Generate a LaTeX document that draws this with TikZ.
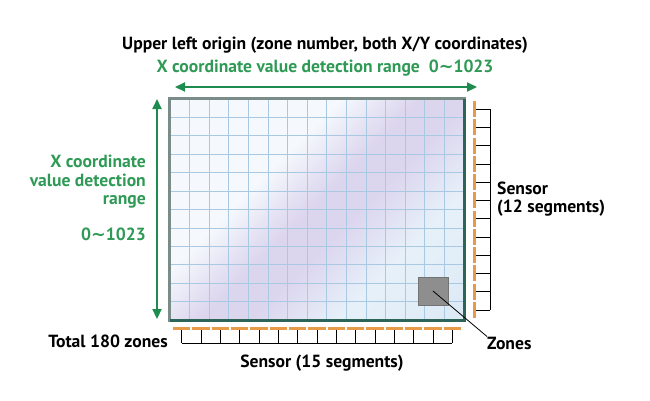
\documentclass[tikz,border=0pt]{standalone}
\usepackage{fontspec}
\setmainfont{PT Sans}
\newfontfamily\symfont{DejaVu Sans}
\usetikzlibrary{arrows.meta}

\definecolor{arrowgreen}{HTML}{1E8C4E}
\definecolor{textgreen}{HTML}{2E9A55}
\definecolor{sensororange}{HTML}{E89A48}
\definecolor{gridblue}{HTML}{A9C9E2}
\definecolor{frameteal}{HTML}{2D6658}
\definecolor{framegray}{HTML}{7A8C88}
\definecolor{lavender}{HTML}{DCD5EE}
\definecolor{paleblue}{HTML}{D2E4F3}
\definecolor{paperwhite}{HTML}{F5F9FD}
\definecolor{zonegray}{HTML}{8E8E8E}

\pgfdeclarehorizontalshading{panelshade}{100bp}{color(0bp)=(paperwhite); color(38bp)=(paperwhite); color(49bp)=(lavender); color(56bp)=(lavender); color(68bp)=(paleblue!40!paperwhite); color(100bp)=(paleblue)}

\newcommand{\wave}{{\symfont\char"223C}}

\tikzset{
  blacktext/.style={font=\bfseries\fontsize{17.6}{20}\selectfont, inner sep=0pt},
  greentext/.style={blacktext, text=textgreen},
  rangearrow/.style={draw=arrowgreen, line width=2.2pt, {Triangle[length=10pt,width=9pt]}-{Triangle[length=10pt,width=9pt]}},
  sensorbar/.style={draw=sensororange, line width=3pt},
  sensorbox/.style={draw=black, line width=0.6pt},
  gridline/.style={draw=gridblue, line width=0.7pt}
}

\begin{document}
\begin{tikzpicture}[x=1pt,y=-1pt]
	\useasboundingbox (0,0) rectangle (650,400);

	% panel with zone grid
	\node[shading=panelshade, shading angle=-45, minimum width=294pt, minimum height=221pt, inner sep=0pt] (panel) at (317,209.5) {};
	\foreach \i in {1,...,14}
		\draw[gridline] (170+\i*19.6,99) -- (170+\i*19.6,320);
	\foreach \j in {1,...,11}
		\draw[gridline] (170,99+\j*18.42) -- (464,99+\j*18.42);
	\draw[framegray, line width=3.2pt] (panel.south west) rectangle (panel.north east);
	\draw[frameteal, line width=3.2pt] (panel.south west) -- (panel.south east) -- (panel.north east);

	\node[fill=zonegray, draw=gray!90!black, line width=0.5pt, minimum width=30pt, minimum height=28pt, inner sep=0pt] (zone) at (433,291) {};

	% sensors
	\foreach \i in {0,...,14}
		\draw[sensorbar] (173+\i*19.33,328) -- +(17.3,0);
	\foreach \j in {0,...,11}
		\draw[sensorbar] (474,101+\j*18.25) -- +(0,16.2);
	\draw[sensorbox] (181.7,343) -- (452.3,343);
	\foreach \i in {0,...,14}
		\draw[sensorbox] (181.7+\i*19.33,329.5) -- (181.7+\i*19.33,343);
	\draw[sensorbox] (490,109.1) -- (490,309.9);
	\foreach \j in {0,...,11}
		\draw[sensorbox] (475.5,109.1+\j*18.25) -- (490,109.1+\j*18.25);

	% detection ranges
	\coordinate (xleft) at (175,87);
	\coordinate (xright) at (477,87);
	\coordinate (ytop) at (157,99);
	\coordinate (ybottom) at (157,319);
	\draw[rangearrow] (xleft) -- (xright);
	\draw[rangearrow] (ytop) -- (ybottom);

	% labels
	\node[blacktext, anchor=base] (title) at (325,49.5) {Upper left origin (zone number, both X/Y coordinates)};
	\node[greentext, anchor=base] (xrange) at (325,72.5) {X coordinate value detection range\ \ 0\wave1023};
	\node[greentext, anchor=base east] (yrange1) at (146,167.5) {X coordinate};
	\node[greentext, anchor=base east] (yrange2) at (146,186) {value detection};
	\node[greentext, anchor=base east] (yrange3) at (146,204) {range};
	\node[greentext, anchor=base east] (yrange4) at (146,240) {0\wave1023};
	\node[blacktext, anchor=base west] (rsensor1) at (497,194) {Sensor};
	\node[blacktext, anchor=base west] (rsensor2) at (497,212.5) {(12 segments)};
	\node[blacktext, anchor=base east] (total) at (168,347) {Total 180 zones};
	\node[blacktext, anchor=base] (bsensor) at (322,367) {Sensor (15 segments)};
	\node[blacktext, anchor=base west] (zoneslbl) at (487,349) {Zones};

	\draw[line width=0.8pt] (zone.center) -- (zoneslbl.north west);

\end{tikzpicture}
\end{document}
